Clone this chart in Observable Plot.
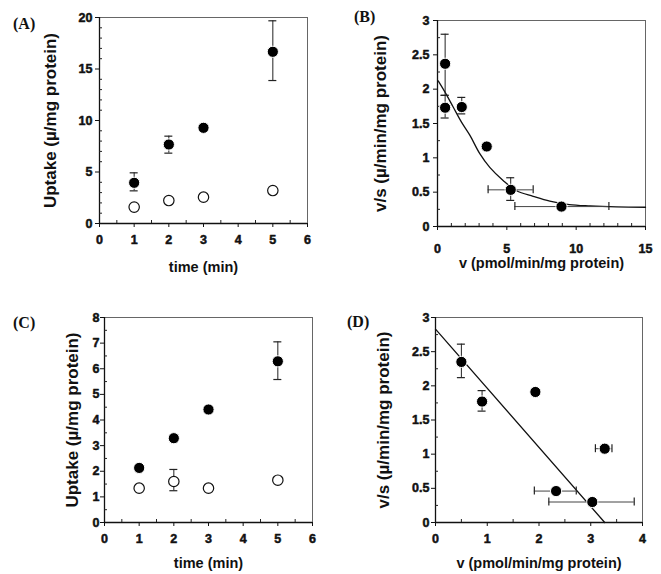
<!DOCTYPE html>
<html>
<head>
<meta charset="utf-8">
<script src="https://cdn.jsdelivr.net/npm/d3@7"></script>
<script src="https://cdn.jsdelivr.net/npm/@observablehq/plot@0.6"></script>
<style>
  html, body { margin: 0; padding: 0; background: #fff; }
  #wrap { position: relative; width: 661px; height: 574px; background: #fff; overflow: hidden; }
  .panel { position: absolute; }
  .panel text { font-weight: bold; }
  .letter { position: absolute; font-family: "Liberation Serif", "Times New Roman", serif; font-weight: bold; font-size: 16px; line-height: 16px; color: #111; }
</style>
</head>
<body>
<div id="wrap"></div>
<script>
// ---------- Panel A ----------
const timeA = [1, 2, 3, 5];
const filledA = [3.95, 7.67, 9.29, 16.67];
const filledALo = [3.17, 6.83, null, 13.88];
const filledAHi = [4.92, 8.48, null, 19.68];
const openA = [1.59, 2.23, 2.56, 3.2];

// ---------- Panel B ----------
const vB = [0.55, 0.55, 1.75, 3.55, 5.28, 8.94];
const vsB = [2.37, 1.73, 1.74, 1.165, 0.534, 0.29];
const vsBLo = [1.91, 1.58, 1.64, null, 0.38, null];
const vsBHi = [2.80, 1.91, 1.88, null, 0.71, null];
const vBLo = [null, null, null, null, 3.65, 5.58];
const vBHi = [null, null, null, null, 6.9, 12.36];
const curveBx = [0.05, 0.53, 1.13, 1.73, 2.33, 3.05, 3.77, 4.73, 5.7, 6.9, 8.1, 9.5, 11, 12.9, 15];
const curveBy = [2.12, 1.96, 1.74, 1.52, 1.33, 1.06, 0.86, 0.67, 0.52, 0.44, 0.37, 0.32, 0.30, 0.286, 0.28];

// ---------- Panel C ----------
const timeC = [1, 2, 3, 5];
const filledC = [2.13, 3.29, 4.41, 6.29];
const filledCLo = [null, null, null, 5.58];
const filledCHi = [null, null, null, 7.05];
const openC = [1.34, 1.60, 1.34, 1.65];
const openCLo = [null, 1.24, null, null];
const openCHi = [null, 2.07, null, null];

// ---------- Panel D ----------
const vD = [0.5, 0.9, 1.93, 3.27, 2.33, 3.03];
const vsD = [2.35, 1.77, 1.91, 1.08, 0.46, 0.30];
const vsDLo = [2.12, 1.63, null, null, null, null];
const vsDHi = [2.61, 1.93, null, null, null, null];
const vDLo = [null, null, null, 3.09, 1.91, 2.19];
const vDHi = [null, null, null, 3.41, 2.72, 3.84];
const lineDx = [0, 3.27];
const lineDy = [2.83, 0];

// tick values
const ticksTime = [0, 1, 2, 3, 4, 5, 6];
const minorTime = [0.5, 1.5, 2.5, 3.5, 4.5, 5.5];
const ticksA = [0, 5, 10, 15, 20];
const minorA = d3.range(1, 20).filter(d => d % 5 !== 0);
const ticksBx = [0, 5, 10, 15];
const minorBx = d3.range(1, 15).filter(d => d % 5 !== 0);
const ticksVS = [0, 0.5, 1, 1.5, 2, 2.5, 3];
const minorVS = [0.25, 0.75, 1.25, 1.75, 2.25, 2.75];
const ticksC = [0, 1, 2, 3, 4, 5, 6, 7, 8];
const minorC = [0.5, 1.5, 2.5, 3.5, 4.5, 5.5, 6.5, 7.5];
const ticksDx = [0, 1, 2, 3, 4];
const minorDx = [0.5, 1.5, 2.5, 3.5];

const FONT = '"Liberation Sans", Arial, Helvetica, sans-serif';

function zipRows(xs, ys, lo, hi, xlo, xhi) {
  return xs.map((x, i) => ({
    x, y: ys[i],
    lo: lo ? lo[i] : null, hi: hi ? hi[i] : null,
    xlo: xlo ? xlo[i] : null, xhi: xhi ? xhi[i] : null
  }));
}

function errorMarks(rows) {
  const v = rows.filter(d => d.lo != null && d.hi != null);
  const h = rows.filter(d => d.xlo != null && d.xhi != null);
  const c = "#222";
  return [
    Plot.ruleX(v, {x: "x", y1: "lo", y2: "hi", stroke: c, strokeWidth: 1}),
    Plot.ruleY(v, {y: "lo", x1: "x", x2: "x", insetLeft: -4, insetRight: -4, stroke: c, strokeWidth: 1.2}),
    Plot.ruleY(v, {y: "hi", x1: "x", x2: "x", insetLeft: -4, insetRight: -4, stroke: c, strokeWidth: 1.2}),
    Plot.ruleY(h, {y: "y", x1: "xlo", x2: "xhi", stroke: "#444", strokeWidth: 1}),
    Plot.ruleX(h, {x: "xlo", y1: "y", y2: "y", insetTop: -4, insetBottom: -4, stroke: c, strokeWidth: 1.2}),
    Plot.ruleX(h, {x: "xhi", y1: "y", y2: "y", insetTop: -4, insetBottom: -4, stroke: c, strokeWidth: 1.2})
  ];
}

function tickLabels(axisFn, ticks, pad) {
  // tick labels with a thin outline for the heavy scanned look
  return axisFn({ticks, tickSize: 0, tickPadding: pad, fontSize: 12.5, fontWeight: "bold",
    tickFormat: d => String(d), label: null, textStroke: "#111", textStrokeWidth: 0.5, textStrokeOpacity: 1});
}

function panel(o) {
  const [x0] = o.xDomain, [y0] = o.yDomain;
  return Plot.plot({
    width: o.width, height: o.height,
    marginLeft: o.ml, marginRight: o.mr, marginTop: o.mt, marginBottom: o.mb,
    x: {domain: o.xDomain, axis: null},
    y: {domain: o.yDomain, axis: null},
    style: {fontFamily: FONT, background: "transparent", color: "#111", overflow: "visible"},
    marks: [
      Plot.frame({stroke: "#666", strokeWidth: 1}),
      Plot.ruleY([y0], {stroke: "#111", strokeWidth: 1.3}),
      Plot.ruleX([x0], {stroke: "#111", strokeWidth: 1.3}),
      // minor ticks (inward)
      Plot.ruleX(o.xMinor, {x: d => d, y1: y0, y2: y0, insetTop: -3, stroke: "#222"}),
      Plot.ruleY(o.yMinor, {y: d => d, x1: x0, x2: x0, insetRight: -3, stroke: "#222"}),
      // major ticks (outward), no text
      Plot.axisX({ticks: o.xMajor, tickSize: 4, tickFormat: () => "", label: null, stroke: "#111"}),
      Plot.axisY({ticks: o.yMajor, tickSize: 4, tickFormat: () => "", label: null, stroke: "#111"}),
      tickLabels(Plot.axisX, o.xMajor, o.xPad + 4),
      tickLabels(Plot.axisY, o.yMajor, o.yPad + 4),
      Plot.text([o.xLabel], {frameAnchor: "bottom", dy: o.xLabelDy, lineAnchor: "middle",
        fontSize: 14.5, fontWeight: "bold", fill: "#111"}),
      Plot.text([o.yLabel], {frameAnchor: "left", dx: -o.yLabelDx, rotate: -90, lineAnchor: "middle",
        textAnchor: "middle", fontSize: 17, fontWeight: "bold", fill: "#111", style: "letter-spacing:0.4px"}),
      ...o.marks
    ]
  });
}

const wrap = document.getElementById("wrap");
function place(node, left, top) {
  node.classList.add("panel");
  node.style.left = left + "px";
  node.style.top = top + "px";
  wrap.appendChild(node);
}
function letter(txt, left, top) {
  const d = document.createElement("div");
  d.className = "letter";
  d.textContent = txt;
  d.style.left = left + "px";
  d.style.top = top + "px";
  wrap.appendChild(d);
}

// Panel A
const rowsAf = zipRows(timeA, filledA, filledALo, filledAHi);
const rowsAo = zipRows(timeA, openA);
place(panel({
  width: 330, height: 290, ml: 99, mr: 23, mt: 17, mb: 67,
  xDomain: [0, 6], yDomain: [0, 20],
  xMajor: ticksTime, xMinor: minorTime, yMajor: ticksA, yMinor: minorA,
  xPad: 7.5, yPad: 3,
  xLabel: "time (min)", yLabel: "Uptake (µ/mg protein)", xLabelDy: 44, yLabelDx: 49,
  marks: [
    ...errorMarks(rowsAf),
    Plot.dot(rowsAo, {x: "x", y: "y", r: 5.2, fill: "white", stroke: "#111", strokeWidth: 1.2}),
    Plot.dot(rowsAf, {x: "x", y: "y", r: 5.6, fill: "black", stroke: "white", strokeWidth: 1})
  ]
}), 0, 0);
letter("(A)", 13, 16);

// Panel B
const rowsB = zipRows(vB, vsB, vsBLo, vsBHi, vBLo, vBHi);
const rowsBc = curveBx.map((x, i) => ({x, y: curveBy[i]}));
place(panel({
  width: 331, height: 290, ml: 107, mr: 16, mt: 20, mb: 64,
  xDomain: [0, 15], yDomain: [0, 3],
  xMajor: ticksBx, xMinor: minorBx, yMajor: ticksVS, yMinor: minorVS,
  xPad: 13.5, yPad: 4,
  xLabel: "v (pmol/min/mg protein)", yLabel: "v/s (µ/min/mg protein)", xLabelDy: 37, yLabelDx: 57,
  marks: [
    Plot.line(rowsBc, {x: "x", y: "y", curve: "catmull-rom", stroke: "#111", strokeWidth: 1.3}),
    ...errorMarks(rowsB),
    Plot.dot(rowsB, {x: "x", y: "y", r: 5.6, fill: "black", stroke: "white", strokeWidth: 1})
  ]
}), 330, 0);
letter("(B)", 354, 9);

// Panel C
const rowsCf = zipRows(timeC, filledC, filledCLo, filledCHi);
const rowsCo = zipRows(timeC, openC, openCLo, openCHi);
place(panel({
  width: 330, height: 284, ml: 104, mr: 18, mt: 27, mb: 52,
  xDomain: [0, 6], yDomain: [0, 8],
  xMajor: ticksTime, xMinor: minorTime, yMajor: ticksC, yMinor: minorC,
  xPad: 7.5, yPad: 1,
  xLabel: "time (min)", yLabel: "Uptake (µ/mg protein)", xLabelDy: 41, yLabelDx: 32,
  marks: [
    ...errorMarks(rowsCf),
    ...errorMarks(rowsCo),
    Plot.dot(rowsCo, {x: "x", y: "y", r: 5.2, fill: "white", stroke: "#111", strokeWidth: 1.2}),
    Plot.dot(rowsCf, {x: "x", y: "y", r: 5.6, fill: "black", stroke: "white", strokeWidth: 1})
  ]
}), 0, 290);
letter("(C)", 13, 315);

// Panel D
const rowsD = zipRows(vD, vsD, vsDLo, vsDHi, vDLo, vDHi);
const rowsDl = lineDx.map((x, i) => ({x, y: lineDy[i]}));
place(panel({
  width: 331, height: 284, ml: 105, mr: 19, mt: 27, mb: 52,
  xDomain: [0, 4], yDomain: [0, 3],
  xMajor: ticksDx, xMinor: minorDx, yMajor: ticksVS, yMinor: minorVS,
  xPad: 7.5, yPad: 2,
  xLabel: "v (pmol/min/mg protein)", yLabel: "v/s (µ/min/mg protein)", xLabelDy: 41, yLabelDx: 52,
  marks: [
    Plot.line(rowsDl, {x: "x", y: "y", stroke: "#111", strokeWidth: 1.3}),
    ...errorMarks(rowsD),
    Plot.dot(rowsD, {x: "x", y: "y", r: 5.6, fill: "black", stroke: "white", strokeWidth: 1})
  ]
}), 330, 290);
letter("(D)", 347, 314);
</script>
</body>
</html>
